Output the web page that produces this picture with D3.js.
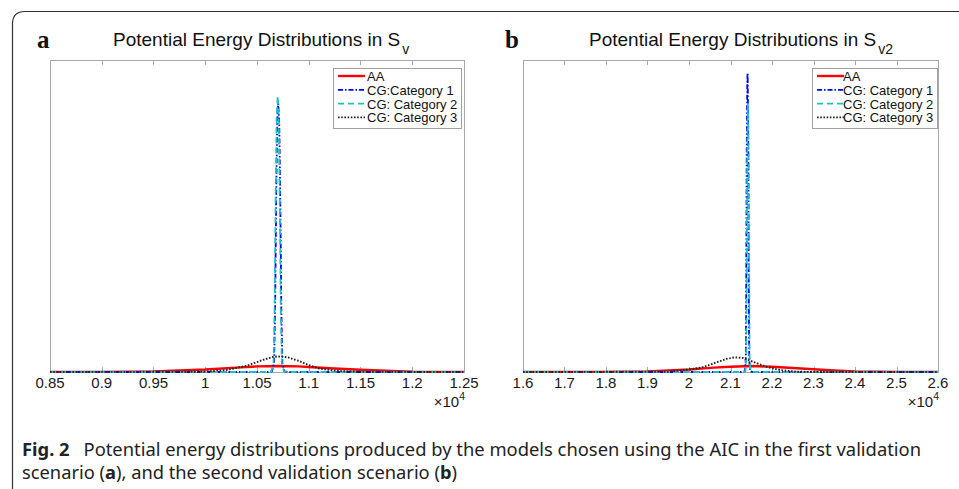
<!DOCTYPE html>
<html>
<head>
<meta charset="utf-8">
<script src="https://cdn.jsdelivr.net/npm/d3@7"></script>
<style>
  body { margin: 0; background: #fff; }
  svg { display: block; }
  .frame { fill: none; stroke: #333; stroke-width: 1.2; }
  .box { fill: none; stroke: #a8a8a8; stroke-width: 1; }
  .tick-mark { stroke: #a8a8a8; stroke-width: 1; }
  .tick-label { font-family: "Liberation Sans", Arial, sans-serif; font-size: 15px; fill: #1a1a1a; }
  .title { font-family: "Liberation Sans", Arial, sans-serif; font-size: 19px; fill: #111; }
  .panel-label { font-family: "Liberation Serif", "DejaVu Serif", serif; font-weight: bold; font-size: 25px; fill: #111; }
  .legend-box { fill: #fff; stroke: #a0a0a0; stroke-width: 1; }
  .legend-text { font-family: "Liberation Sans", Arial, sans-serif; font-size: 13px; fill: #111; }
  .caption { font-family: "Noto Sans", "Open Sans", sans-serif; font-size: 17.5px; fill: #222; }
</style>
</head>
<body>
<div id="chart"></div>
<script>
// tick values (x in units of 10^4)
var ticksA = [0.85, 0.9, 0.95, 1, 1.05, 1.1, 1.15, 1.2, 1.25];
var ticksB = [1.6, 1.7, 1.8, 1.9, 2, 2.1, 2.2, 2.3, 2.4, 2.5, 2.6];

// panel a series: [x, density] (density normalised to axis height)
var aaA = [[0.85,0],[0.90,0.0005],[0.95,0.002],[1.00,0.008],[1.03,0.014],[1.05,0.018],[1.07,0.019],
  [1.09,0.018],[1.10,0.016],[1.12,0.012],[1.15,0.007],[1.18,0.003],[1.20,0.001],[1.25,0]];
var cat1A = [[0.85,0],[1.060,0],[1.0645,0.002],[1.0665,0.03],[1.0675,0.2],[1.0685,0.55],[1.0695,0.8],
  [1.0705,0.86],[1.0715,0.8],[1.0725,0.55],[1.0735,0.2],[1.0745,0.03],[1.0765,0.002],[1.081,0],[1.25,0]];
var cat2A = [[0.85,0],[1.060,0],[1.064,0.002],[1.066,0.03],[1.067,0.2],[1.068,0.55],[1.069,0.82],
  [1.070,0.885],[1.071,0.82],[1.072,0.55],[1.073,0.2],[1.074,0.03],[1.076,0.002],[1.080,0],[1.25,0]];
var cat3A = [[0.85,0],[1.00,0.001],[1.02,0.006],[1.04,0.02],[1.055,0.038],[1.065,0.048],[1.07,0.05],
  [1.08,0.047],[1.09,0.036],[1.10,0.022],[1.11,0.011],[1.13,0.003],[1.15,0.0005],[1.25,0]];

// panel b series
var aaB = [[1.6,0],[1.8,0.0005],[1.9,0.002],[2.0,0.008],[2.06,0.014],[2.1,0.017],[2.15,0.019],
  [2.2,0.017],[2.25,0.013],[2.3,0.009],[2.35,0.005],[2.4,0.002],[2.5,0.0003],[2.6,0]];
var cat1B = [[1.6,0],[2.130,0],[2.135,0.003],[2.137,0.05],[2.138,0.3],[2.139,0.7],[2.1405,0.93],
  [2.141,0.958],[2.1415,0.93],[2.143,0.7],[2.144,0.3],[2.145,0.05],[2.147,0.003],[2.152,0],[2.6,0]];
var cat2B = [[1.6,0],[2.131,0],[2.136,0.003],[2.138,0.05],[2.139,0.3],[2.140,0.65],[2.1415,0.83],
  [2.142,0.86],[2.1425,0.83],[2.144,0.65],[2.145,0.3],[2.146,0.05],[2.148,0.003],[2.153,0],[2.6,0]];
var cat3B = [[1.6,0],[1.95,0.001],[2.0,0.008],[2.03,0.014],[2.06,0.028],[2.09,0.042],[2.11,0.047],
  [2.13,0.045],[2.16,0.03],[2.19,0.015],[2.22,0.006],[2.26,0.001],[2.3,0],[2.6,0]];

var legendA = ["AA", "CG:Category 1", "CG: Category 2", "CG: Category 3"];
var legendB = ["AA", "CG: Category 1", "CG: Category 2", "CG: Category 3"];

var styles = [
  { color: "#ff0000", width: 2.4, dash: null },
  { color: "#0000ff", width: 1.8, dash: "5,2,1.5,2" },
  { color: "#1fbfbf", width: 1.8, dash: "6,4" },
  { color: "#222222", width: 1.9, dash: "1.6,1.6" }
];

var W = 959, H = 489;
var svg = d3.select("#chart").append("svg").attr("width", W).attr("height", H);

// outer rounded frame, open on right and bottom
svg.append("path").attr("class", "frame")
  .attr("d", "M12.5,500 L12.5,24 Q12.5,11.5 25,11.5 L970,11.5");

svg.append("defs");

function drawPanel(opt) {
  var x = d3.scaleLinear().domain(opt.domain).range([opt.left, opt.right]);
  var y = d3.scaleLinear().domain([0, 1]).range([opt.bottom, opt.top]);
  var g = svg.append("g");

  var clipId = "clip-" + opt.id;
  svg.select("defs").append("clipPath").attr("id", clipId)
    .append("rect")
    .attr("x", opt.left).attr("y", opt.top)
    .attr("width", opt.right - opt.left).attr("height", opt.bottom - opt.top + 1);

  g.append("rect").attr("class", "box")
    .attr("x", opt.left + 0.5).attr("y", opt.top + 0.5)
    .attr("width", opt.right - opt.left).attr("height", opt.bottom - opt.top);

  // ticks inside bottom and top
  g.selectAll("line.tb").data(opt.ticks).enter().append("line")
    .attr("class", "tick-mark")
    .attr("x1", function(d) { return Math.round(x(d)) + 0.5; })
    .attr("x2", function(d) { return Math.round(x(d)) + 0.5; })
    .attr("y1", opt.bottom).attr("y2", opt.bottom - 5);
  g.selectAll("line.tt").data(opt.ticks).enter().append("line")
    .attr("class", "tick-mark")
    .attr("x1", function(d) { return Math.round(x(d)) + 0.5; })
    .attr("x2", function(d) { return Math.round(x(d)) + 0.5; })
    .attr("y1", opt.top).attr("y2", opt.top + 5);

  g.selectAll("text.tl").data(opt.ticks).enter().append("text")
    .attr("class", "tick-label")
    .attr("x", function(d) { return x(d); })
    .attr("y", opt.bottom + 16)
    .attr("text-anchor", "middle")
    .text(function(d) { return String(d); });

  var exp = g.append("text").attr("class", "tick-label")
    .attr("x", opt.right + 1).attr("y", opt.bottom + 35).attr("text-anchor", "end");
  exp.append("tspan").text("\u00d710");
  exp.append("tspan").attr("dy", -7).attr("font-size", "10.5px").text("4");

  var line = d3.line()
    .x(function(d) { return x(d[0]); })
    .y(function(d) { return y(d[1]); });

  var lines = g.append("g").attr("clip-path", "url(#" + clipId + ")");
  opt.series.forEach(function(s, i) {
    var st = styles[i];
    lines.append("path")
      .datum(s)
      .attr("d", line)
      .attr("fill", "none")
      .attr("stroke", st.color)
      .attr("stroke-width", st.width)
      .attr("stroke-dasharray", st.dash)
      .attr("stroke-linejoin", "round");
  });

  // title with subscript
  var t = svg.append("text").attr("class", "title")
    .attr("x", opt.titleX).attr("y", 46);
  t.append("tspan").text("Potential Energy Distributions in S");
  t.append("tspan").attr("dy", 8).attr("dx", 2).attr("font-size", "14px").text(opt.sub);

  svg.append("text").attr("class", "panel-label")
    .attr("x", opt.labelX).attr("y", 48).text(opt.label);

  // legend
  var lg = g.append("g");
  lg.append("rect").attr("class", "legend-box")
    .attr("x", opt.legX + 0.5).attr("y", 68.5)
    .attr("width", opt.legW).attr("height", 60);
  opt.legend.forEach(function(name, i) {
    var st = styles[i];
    var yy = 76 + i * 13.8;
    lg.append("line")
      .attr("x1", opt.legX + 5).attr("x2", opt.legX + 32)
      .attr("y1", yy).attr("y2", yy)
      .attr("stroke", st.color)
      .attr("stroke-width", st.width)
      .attr("stroke-dasharray", st.dash);
    lg.append("text").attr("class", "legend-text")
      .attr("x", opt.legX + opt.textOff).attr("y", yy + 5)
      .text(name);
  });
}

drawPanel({
  id: "a", domain: [0.85, 1.25], ticks: ticksA,
  left: 50, right: 464, top: 60, bottom: 372,
  series: [aaA, cat1A, cat2A, cat3A],
  titleX: 113, sub: "v", label: "a", labelX: 37,
  legend: legendA, legX: 333, legW: 128, textOff: 34
});

drawPanel({
  id: "b", domain: [1.6, 2.6], ticks: ticksB,
  left: 523, right: 938, top: 60, bottom: 372,
  series: [aaB, cat1B, cat2B, cat3B],
  titleX: 589, sub: "v2", label: "b", labelX: 505,
  legend: legendB, legX: 812, legW: 125, textOff: 31
});

// caption
var c1 = svg.append("text").attr("class", "caption")
  .attr("x", 22).attr("y", 456)
  .attr("textLength", 899).attr("lengthAdjust", "spacingAndGlyphs");
c1.append("tspan").attr("font-weight", "bold").text("Fig. 2");
c1.append("tspan").text("\u2002 Potential energy distributions produced by the models chosen using the AIC in the first validation");

var c2 = svg.append("text").attr("class", "caption")
  .attr("x", 22).attr("y", 479)
  .attr("textLength", 435).attr("lengthAdjust", "spacingAndGlyphs");
c2.append("tspan").text("scenario (");
c2.append("tspan").attr("font-weight", "bold").text("a");
c2.append("tspan").text("), and the second validation scenario (");
c2.append("tspan").attr("font-weight", "bold").text("b");
c2.append("tspan").text(")");
</script>
</body>
</html>
